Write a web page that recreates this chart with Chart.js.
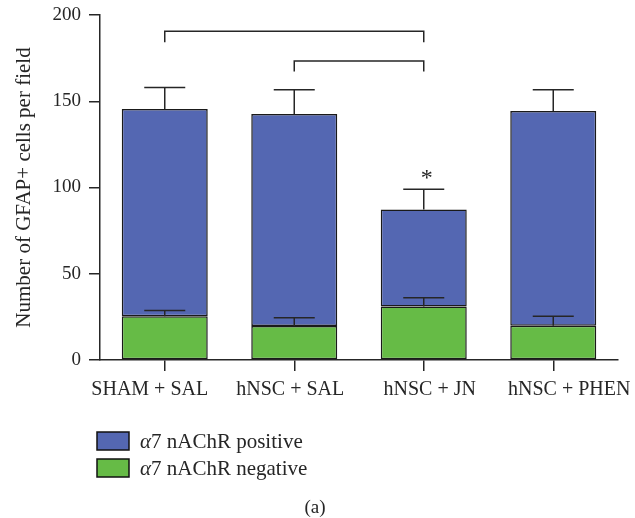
<!DOCTYPE html>
<html>
<head>
<meta charset="utf-8">
<script src="https://cdn.jsdelivr.net/npm/chart.js@4.4.0/dist/chart.umd.min.js"></script>
<style>
  html, body { margin: 0; padding: 0; background: #fff; }
  #wrap { width: 635px; height: 518px; position: relative; }
</style>
</head>
<body>
<div id="wrap"><canvas id="chart" width="635" height="518"></canvas></div>
<script>
const groups = ["SHAM + SAL", "hNSC + SAL", "hNSC + JN", "hNSC + PHEN"];

// stacked values: negative at the bottom, positive on top
const negative = [25.3, 19.7, 31.0, 19.9];
const positive = [120.2, 122.9, 56.2, 124.5];

// SEM, upward only
const negativeErr = [3.4, 4.8, 5.1, 5.4];
const totalErr = [12.4, 14.1, 11.8, 12.2];

const yTicks = [0, 50, 100, 150, 200];

// significance brackets: from group, to group, top level, leg end
const brackets = [
  { from: 0, to: 2, top: 190.6, leg: 184.2 },
  { from: 1, to: 2, top: 173.4, leg: 167.2 }
];
const starGroup = 2;
const starValue = 105;

// category labels sit a little off their ticks in the original
const labelShift = [-15, -4, 6, 16];

const serif = "'Liberation Serif', 'DejaVu Serif', serif";
const ink = "#262626";

const extras = {
  id: "extras",
  afterDatasetsDraw(chart) {
    const ctx = chart.ctx;
    const x = chart.scales.x, y = chart.scales.y;
    ctx.save();
    ctx.strokeStyle = ink;
    ctx.lineWidth = 1.5;

    // error bars
    const metaNeg = chart.getDatasetMeta(0);
    groups.forEach((g, i) => {
      const cx = metaNeg.data[i].x;
      const pairs = [
        [negative[i], negativeErr[i]],
        [negative[i] + positive[i], totalErr[i]]
      ];
      pairs.forEach(([v, e]) => {
        const y0 = y.getPixelForValue(v);
        const y1 = y.getPixelForValue(v + e);
        ctx.beginPath();
        ctx.moveTo(cx, y0);
        ctx.lineTo(cx, y1);
        ctx.moveTo(cx - 20.5, y1);
        ctx.lineTo(cx + 20.5, y1);
        ctx.stroke();
      });
    });

    // brackets
    brackets.forEach(b => {
      const x0 = x.getPixelForValue(b.from);
      const x1 = x.getPixelForValue(b.to);
      const yt = y.getPixelForValue(b.top);
      const yl = y.getPixelForValue(b.leg);
      ctx.beginPath();
      ctx.moveTo(x0, yl);
      ctx.lineTo(x0, yt);
      ctx.lineTo(x1, yt);
      ctx.lineTo(x1, yl);
      ctx.stroke();
    });

    // asterisk
    ctx.fillStyle = ink;
    ctx.font = "24px " + serif;
    ctx.textAlign = "center";
    ctx.textBaseline = "middle";
    ctx.fillText("*", x.getPixelForValue(starGroup) + 3, y.getPixelForValue(starValue));

    // category labels
    ctx.font = "20px " + serif;
    ctx.textBaseline = "alphabetic";
    groups.forEach((g, i) => {
      ctx.fillText(g, x.getPixelForValue(i) + labelShift[i], 395);
    });

    // legend (positive first)
    ctx.textAlign = "left";
    ctx.textBaseline = "middle";
    const order = [1, 0];
    order.forEach((di, k) => {
      const ds = chart.data.datasets[di];
      const top = 432 + k * 27;
      ctx.fillStyle = ds.backgroundColor;
      ctx.fillRect(97, top, 32, 18);
      ctx.strokeStyle = "#111";
      ctx.lineWidth = 1.5;
      ctx.strokeRect(97, top, 32, 18);
      ctx.fillStyle = ink;
      ctx.font = "italic 21px " + serif;
      ctx.fillText("\u03B1", 140, top + 10);
      const aw = ctx.measureText("\u03B1").width;
      ctx.font = "21px " + serif;
      ctx.fillText(ds.label.replace("\u03B1", ""), 140 + aw, top + 10);
    });

    // panel letter
    ctx.textAlign = "center";
    ctx.font = "19px " + serif;
    ctx.fillText("(a)", 315, 508);
    ctx.restore();
  }
};

new Chart(document.getElementById("chart"), {
  type: "bar",
  data: {
    labels: groups,
    datasets: [
      {
        label: "\u03B17 nAChR negative",
        data: negative,
        backgroundColor: "#66bb46",
        borderColor: "#1a1a1a",
        borderWidth: 1.5,
        borderSkipped: false
      },
      {
        label: "\u03B17 nAChR positive",
        data: positive,
        backgroundColor: "#5467b2",
        borderColor: "#1a1a1a",
        borderWidth: 1.5,
        borderSkipped: false
      }
    ]
  },
  options: {
    responsive: false,
    animation: false,
    barPercentage: 0.664,
    categoryPercentage: 1,
    layout: { padding: { top: 15, right: 17, left: 0, bottom: 0 } },
    plugins: {
      legend: { display: false },
      tooltip: { enabled: false }
    },
    scales: {
      x: {
        stacked: true,
        offset: true,
        afterFit(scale) { scale.height = 158; },
        border: { color: ink, width: 1.5 },
        grid: {
          offset: false,
          drawOnChartArea: false,
          drawTicks: true,
          tickLength: 11,
          color: ink,
          lineWidth: 1.5
        },
        ticks: { display: false }
      },
      y: {
        stacked: true,
        min: 0,
        max: 200,
        afterFit(scale) {
          scale.width = 100;
          scale.paddingTop = 0;
          scale.paddingBottom = 0;
        },
        afterBuildTicks(scale) { scale.ticks = yTicks.map(v => ({ value: v })); },
        border: { color: ink, width: 1.5 },
        grid: {
          drawOnChartArea: false,
          drawTicks: true,
          tickLength: 11,
          color: ink,
          lineWidth: 1.5
        },
        ticks: {
          color: ink,
          padding: 8,
          font: { family: serif, size: 19 }
        },
        title: {
          display: true,
          text: "Number of GFAP+ cells per field",
          color: ink,
          font: { family: serif, size: 21 },
          padding: { top: 12, bottom: 0 }
        }
      }
    }
  },
  plugins: [extras]
});
</script>
</body>
</html>
